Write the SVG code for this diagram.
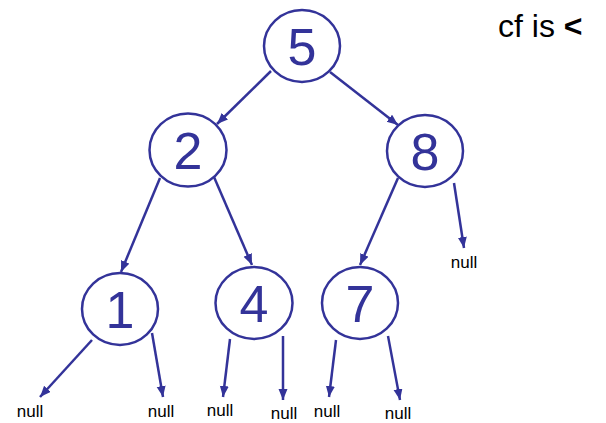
<svg xmlns="http://www.w3.org/2000/svg" width="606" height="423" viewBox="0 0 606 423">
<defs>
<style>
.node ellipse{fill:#fff;stroke:#333399;stroke-width:2.5}
.node text{font-family:"Liberation Sans",Arial,sans-serif;font-size:52px;fill:#333399;text-anchor:middle}
.edges line{stroke:#333399;stroke-width:2.5;marker-end:url(#arr)}
.null{font-family:"Liberation Sans",Arial,sans-serif;font-size:17px;fill:#000;text-anchor:middle}
</style>
<marker id="arr" markerUnits="userSpaceOnUse" markerWidth="12" markerHeight="10" refX="11" refY="4.5" orient="auto">
<path d="M0,0 L11,4.5 L0,9 z" fill="#333399"/>
</marker>
</defs>
<rect width="606" height="423" fill="#fff"/>
<g class="edges">
<line x1="271" y1="71" x2="217" y2="124"/>
<line x1="330" y1="72" x2="398" y2="125"/>
<line x1="160" y1="178" x2="121" y2="272"/>
<line x1="214" y1="177" x2="252" y2="265"/>
<line x1="398" y1="178" x2="360" y2="265"/>
<line x1="454" y1="183" x2="464" y2="248"/>
<line x1="92" y1="340" x2="40" y2="397"/>
<line x1="152" y1="333" x2="163" y2="397"/>
<line x1="230" y1="339" x2="223" y2="397"/>
<line x1="283" y1="336" x2="283" y2="400"/>
<line x1="336" y1="340" x2="329" y2="397"/>
<line x1="388" y1="336" x2="400" y2="400"/>
</g>
<g id="n5" class="node"><ellipse cx="302" cy="46" rx="38" ry="36"/><text x="302" y="65">5</text></g>
<g id="n2" class="node"><ellipse cx="188" cy="150" rx="38.5" ry="36.5"/><text x="188" y="169">2</text></g>
<g id="n8" class="node"><ellipse cx="425" cy="151" rx="38" ry="36"/><text x="425" y="170">8</text></g>
<g id="n1" class="node"><ellipse cx="120" cy="309" rx="38" ry="36"/><text x="120" y="328">1</text></g>
<g id="n4" class="node"><ellipse cx="254" cy="303" rx="38.5" ry="36"/><text x="254" y="322">4</text></g>
<g id="n7" class="node"><ellipse cx="360" cy="303" rx="38" ry="36"/><text x="360" y="322">7</text></g>
<g id="nulls">
<text class="null" x="464" y="268">null</text>
<text class="null" x="30" y="417">null</text>
<text class="null" x="161" y="417">null</text>
<text class="null" x="220" y="416">null</text>
<text class="null" x="284" y="419">null</text>
<text class="null" x="327" y="417">null</text>
<text class="null" x="398" y="419">null</text>
</g>
<text id="caption" x="498" y="37" font-family="'Liberation Sans',Arial,sans-serif" font-size="32" fill="#000">cf is <tspan font-weight="bold">&lt;</tspan></text>
</svg>
